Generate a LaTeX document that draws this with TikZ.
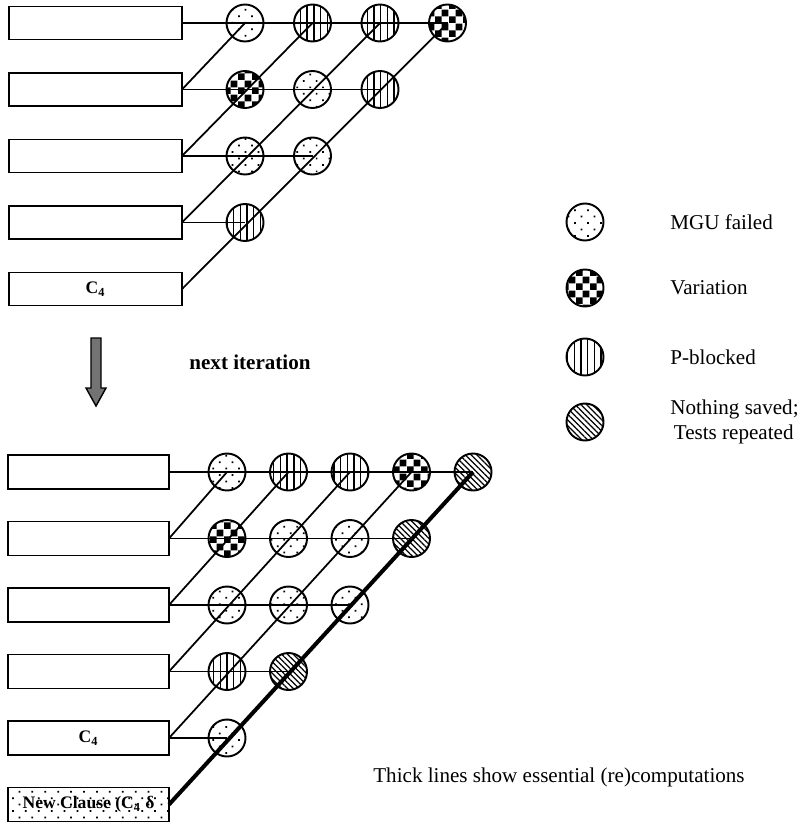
\documentclass[tikz,border=0pt]{standalone}
\usepackage{fontspec}
\setmainfont{Liberation Serif}
\usetikzlibrary{positioning, patterns.meta}

\tikzdeclarepattern{
  name=checkers,
  type=uncolored,
  bounding box={(0pt,0pt) and (8pt,8pt)},
  tile size={(8pt,8pt)},
  code={
    \fill (0pt,0pt) rectangle (4pt,4pt);
    \fill (4pt,4pt) rectangle (8pt,8pt);
  }
}

\begin{document}
\begin{tikzpicture}[x=0.2mm, y=-0.2mm,
    clause/.style={draw, line width=1.1pt, minimum width=34.6mm, minimum height=6.6mm,
      inner sep=0pt, outer sep=0pt, font=\bfseries\fontsize{10}{12}\selectfont},
    test/.style={circle, draw, line width=1.1pt, minimum size=7.4mm, inner sep=0pt, outer sep=0pt},
    failed/.style={test, pattern={Dots[distance=5.2pt, angle=45, radius=0.7pt]}},
    variant/.style={test, pattern=checkers},
    blocked/.style={test, pattern={Lines[angle=90, distance=3.8pt, line width=0.8pt]}},
    repeated/.style={test, pattern={Lines[angle=-45, distance=2.3pt, line width=0.7pt]}},
    link/.style={line width=1pt},
    essential/.style={line width=2.3pt},
    note/.style={inner sep=0pt, font=\fontsize{12}{14}\selectfont}]
  \useasboundingbox (0,0) rectangle (805,824);

  % before
  \node[clause] (a1) at (95.5,23) {};
  \node[clause, below=6.7mm of a1] (a2) {};
  \node[clause, below=6.7mm of a2] (a3) {};
  \node[clause, below=6.7mm of a3] (a4) {};
  \node[clause, below=6.7mm of a4] (a5) {C\textsubscript{4}};

  \node[failed, right=8.9mm of a1] (t11) {};
  \node[blocked, right=6.1mm of t11] (t12) {};
  \node[blocked, right=6.1mm of t12] (t13) {};
  \node[variant, right=6.1mm of t13] (t14) {};
  \node[variant, right=8.9mm of a2] (t21) {};
  \node[failed, right=6.1mm of t21] (t22) {};
  \node[blocked, right=6.1mm of t22] (t23) {};
  \node[failed, right=8.9mm of a3] (t31) {};
  \node[failed, right=6.1mm of t31] (t32) {};
  \node[blocked, right=8.9mm of a4] (t41) {};

  \draw[link] (a1.east) -- (t14.center);
  \draw[link] (a2.east) -- (t23.center);
  \draw[link] (a3.east) -- (t32.center);
  \draw[link] (a4.east) -- (t41.center);
  \draw[link] (a2.east) -- (t11.center);
  \draw[link] (a3.east) -- (t12.center);
  \draw[link] (a4.east) -- (t13.center);
  \draw[link] (a5.east) -- (t14.center);

  % next iteration
  \draw[line width=0.8pt, fill=black!55] (91,338) -- (101,338) -- (101,388) -- (106,388)
    -- (96,406) -- (86,388) -- (91,388) -- cycle;
  \node[note, font=\bfseries\fontsize{12}{14}\selectfont] (next) at (250,362) {next iteration};

  % after
  \node[clause, minimum width=32.2mm, minimum height=6.8mm] (b1) at (88.5,472) {};
  \node[clause, minimum width=32.2mm, minimum height=6.8mm, below=6.5mm of b1] (b2) {};
  \node[clause, minimum width=32.2mm, minimum height=6.8mm, below=6.5mm of b2] (b3) {};
  \node[clause, minimum width=32.2mm, minimum height=6.8mm, below=6.5mm of b3] (b4) {};
  \node[clause, minimum width=32.2mm, minimum height=6.8mm, below=6.5mm of b4] (b5) {C\textsubscript{4}};
  \node[clause, minimum width=32.2mm, minimum height=6.8mm, below=6.5mm of b5,
    pattern={Dots[distance=5.2pt, angle=45, radius=0.7pt]}] (b6) {New Clause (C\textsubscript{4} δ};

  \node[failed, right=7.9mm of b1] (u11) {};
  \node[blocked, right=4.9mm of u11] (u12) {};
  \node[blocked, right=4.9mm of u12] (u13) {};
  \node[variant, right=4.9mm of u13] (u14) {};
  \node[repeated, right=4.9mm of u14] (u15) {};
  \node[variant, right=7.9mm of b2] (u21) {};
  \node[failed, right=4.9mm of u21] (u22) {};
  \node[failed, right=4.9mm of u22] (u23) {};
  \node[repeated, right=4.9mm of u23] (u24) {};
  \node[failed, right=7.9mm of b3] (u31) {};
  \node[failed, right=4.9mm of u31] (u32) {};
  \node[failed, right=4.9mm of u32] (u33) {};
  \node[blocked, right=7.9mm of b4] (u41) {};
  \node[repeated, right=4.9mm of u41] (u42) {};
  \node[failed, right=7.9mm of b5] (u51) {};

  \draw[link] (b1.east) -- (u15.center);
  \draw[link] (b2.east) -- (u24.center);
  \draw[link] (b3.east) -- (u33.center);
  \draw[link] (b4.east) -- (u42.center);
  \draw[link] (b5.east) -- (u51.center);
  \draw[link] (b2.east) -- (u11.center);
  \draw[link] (b3.east) -- (u12.center);
  \draw[link] (b4.east) -- (u13.center);
  \draw[link] (b5.east) -- (u14.center);
  \draw[essential] (b6.east) -- (u15.center);

  % legend
  \node[failed] (l1) at (585,222) {};
  \node[variant] (l2) at (585,288) {};
  \node[blocked] (l3) at (585,357) {};
  \node[repeated] (l4) at (585,422) {};
  \node[note, right=13.3mm of l1] (l1text) {MGU failed};
  \node[note, right=13.3mm of l2] (l2text) {Variation};
  \node[note, right=13.3mm of l3] (l3text) {P-blocked};
  \node[note, right=13.3mm of l4, align=left] (l4text) {Nothing saved;\\\hspace{2pt}Tests repeated};

  \node[note, anchor=west] (thick) at (373,777) {Thick lines show essential (re)computations};
\end{tikzpicture}
\end{document}
